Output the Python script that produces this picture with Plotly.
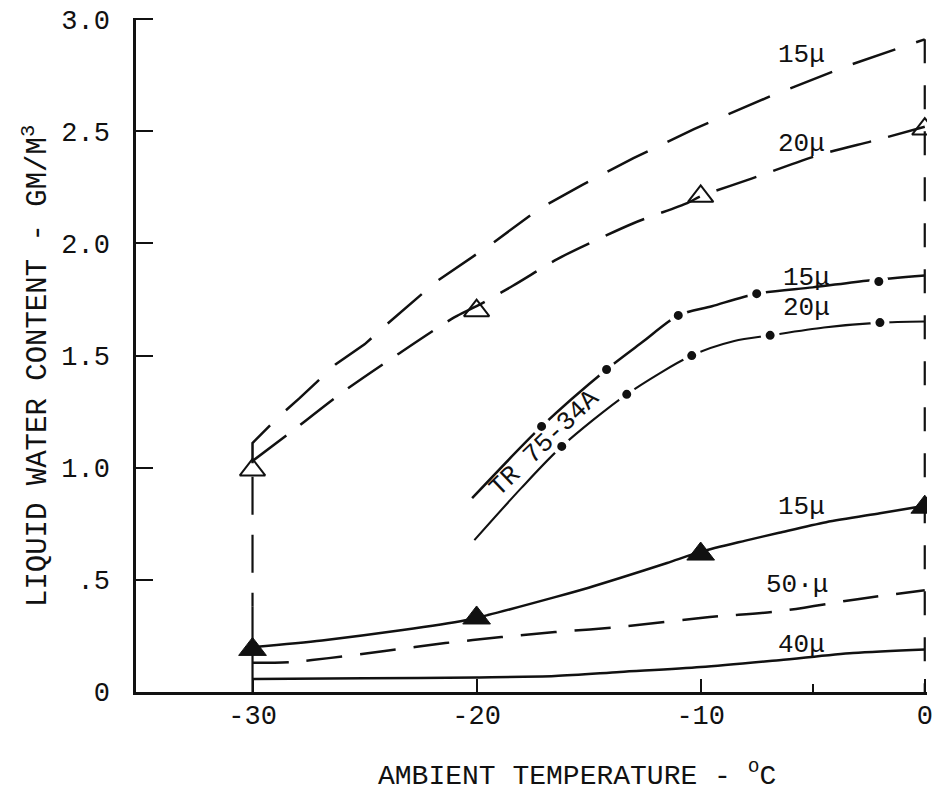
import plotly.graph_objects as go

# ---------------- data ----------------
# Upper family (open triangles), dashed curves
u15_x = [-30, -30, -28.8, -27.9, -26.3, -25, -24, -21.8, -19.3, -17.2, -15.3, -13, -10.3, -6.8, -3.5, 0]
u15_y = [1.02, 1.11, 1.23, 1.31, 1.46, 1.55, 1.64, 1.83, 2.00, 2.155, 2.26, 2.38, 2.51, 2.66, 2.79, 2.91]

u20_x = [-30, -28.4, -26, -23.6, -21, -20, -18.4, -16.4, -15.3, -13, -10.6, -10, -7.7, -4.7, -2.2, 0]
u20_y = [1.03, 1.15, 1.335, 1.50, 1.67, 1.72, 1.81, 1.93, 1.985, 2.09, 2.18, 2.21, 2.29, 2.395, 2.46, 2.52]

open_tri_x = [-30, -20, -10, 0]
open_tri_y = [0.99, 1.70, 2.21, 2.51]

# TR 75-34A curves (dash-dot)
tr15_x = [-20.2, -17.1, -14.2, -12.6, -11.0, -9.5, -7.5, -5, -2.5, 0]
tr15_y = [0.864, 1.184, 1.438, 1.56, 1.679, 1.72, 1.776, 1.804, 1.835, 1.857]
tr15_dot_x = [-17.1, -14.2, -11.0, -7.5, -2.05]
tr15_dot_y = [1.184, 1.438, 1.679, 1.776, 1.83]

tr20_x = [-20.1, -18, -16.2, -13.3, -10.4, -8.5, -6.9, -4.5, -2, 0]
tr20_y = [0.677, 0.91, 1.095, 1.327, 1.50, 1.565, 1.59, 1.625, 1.647, 1.652]
tr20_dot_x = [-16.2, -13.3, -10.4, -6.9, -2.0]
tr20_dot_y = [1.095, 1.327, 1.50, 1.59, 1.647]

# Lower family (filled triangles)
l15_x = [-30, -26.9, -23.3, -20.5, -19.5, -16.5, -15, -13.6, -11.5, -10, -8, -6.5, -4.4, -2, 0]
l15_y = [0.20, 0.23, 0.276, 0.32, 0.343, 0.423, 0.465, 0.508, 0.575, 0.625, 0.675, 0.71, 0.757, 0.797, 0.83]

filled_tri_x = [-30, -20, -10, 0]
filled_tri_y = [0.19, 0.33, 0.615, 0.824]

d50_x = [-30, -28.2, -26.6, -24.1, -21.4, -18.9, -16.5, -13.6, -9.6, -6.5, -3.0, 0]
d50_y = [0.13, 0.134, 0.151, 0.183, 0.218, 0.245, 0.267, 0.29, 0.334, 0.36, 0.414, 0.454]

s40_x = [-30, -25, -20, -16.5, -13.6, -10, -6.5, -3.2, 0]
s40_y = [0.058, 0.061, 0.065, 0.071, 0.089, 0.111, 0.142, 0.174, 0.19]

# vertical guide lines
v0_x = [0, 0]
v0_y = [2.91, 0]
v30_dash_x = [-30, -30]
v30_dash_y = [0.96, 0.38]
v30_solid_x = [-30, -30]
v30_solid_y = [0.38, 0]

# curve labels
label_text = ["15\u03bc", "20\u03bc", "15\u03bc", "20\u03bc", "15\u03bc", "50\u00b7\u03bc", "40\u03bc"]
label_x = [-5.5, -5.5, -5.3, -5.3, -5.5, -5.7, -5.5]
label_y = [2.84, 2.444, 1.848, 1.71, 0.824, 0.476, 0.209]

tr_label = "TR 75-34A"
tr_label_x = -16.95
tr_label_y = 1.11

x_tickvals = [-30, -20, -10, 0]
x_ticktext = ["-30", "-20", "-10", "0"]
y_tickvals = [0, 0.5, 1.0, 1.5, 2.0, 2.5, 3.0]
y_ticktext = ["0", ".5", "1.0", "1.5", "2.0", "2.5", "3.0"]

x_title = "AMBIENT TEMPERATURE - <sup>o</sup>C"
y_title = "LIQUID WATER CONTENT - GM/M<sup>3</sup>"

# ---------------- figure ----------------
FONT = "Liberation Mono"
BLK = "#111111"
LW = 2.5

fig = go.Figure()

def line(x, y, dash="solid", width=LW, smooth=True):
    fig.add_trace(go.Scatter(x=x, y=y, mode="lines",
                             line=dict(color=BLK, width=width, dash=dash,
                                       shape="spline" if smooth else "linear",
                                       smoothing=0.8),
                             hoverinfo="skip", showlegend=False))

line(v0_x, v0_y, dash="24px,22px", width=2.2, smooth=False)
line(v30_dash_x, v30_dash_y, dash="38px,20px", width=2.2, smooth=False)
line(v30_solid_x, v30_solid_y, width=2.2, smooth=False)

line(u15_x, u15_y, dash="45px,22px", smooth=False)
line(u20_x, u20_y, dash="42px,18px")
line(tr15_x, tr15_y)
line(tr20_x, tr20_y, width=2.1)
line(l15_x, l15_y)
line(d50_x, d50_y, dash="36px,18px")
line(s40_x, s40_y)

# dots on the TR curves (white halo makes the dash-dot gaps)
for dx, dy in ((tr15_dot_x, tr15_dot_y), (tr20_dot_x, tr20_dot_y)):
    fig.add_trace(go.Scatter(x=dx, y=dy, mode="markers",
                             marker=dict(symbol="circle", size=14, color=BLK,
                                         line=dict(color="white", width=5)),
                             hoverinfo="skip", showlegend=False))

fig.add_trace(go.Scatter(x=open_tri_x, y=open_tri_y, mode="markers",
                         marker=dict(symbol="triangle-up-open", size=22, color=BLK,
                                     line=dict(color=BLK, width=2)),
                         hoverinfo="skip", showlegend=False))
fig.add_trace(go.Scatter(x=filled_tri_x, y=filled_tri_y, mode="markers",
                         marker=dict(symbol="triangle-up", size=24, color=BLK,
                                     line=dict(color=BLK, width=1)),
                         hoverinfo="skip", showlegend=False))

for t, x, y in zip(label_text, label_x, label_y):
    fig.add_annotation(x=x, y=y, text=t, showarrow=False,
                       font=dict(family=FONT, size=26, color=BLK),
                       xanchor="center", yanchor="middle")

fig.add_annotation(x=tr_label_x, y=tr_label_y, text=tr_label, showarrow=False,
                   textangle=-44, font=dict(family=FONT, size=26, color=BLK),
                   xanchor="center", yanchor="middle")

fig.add_annotation(xref="paper", yref="paper", x=0.5575, y=-0.1217,
                   text=x_title, showarrow=False,
                   font=dict(family=FONT, size=28, color=BLK),
                   xanchor="center", yanchor="middle")
fig.add_annotation(xref="paper", yref="paper", x=-0.1264, y=0.4837,
                   text=y_title, showarrow=False, textangle=-90,
                   font=dict(family=FONT, size=29, color=BLK),
                   xanchor="center", yanchor="middle")

# the page body has an 8px margin, so the figure is sized/offset to compensate
fig.update_layout(
    width=938, height=791,
    margin=dict(l=128, r=19, t=10, b=107),
    paper_bgcolor="white", plot_bgcolor="white",
    font=dict(family=FONT, size=27, color=BLK),
    showlegend=False,
    xaxis=dict(range=[-35.2, 0.1], showgrid=False, zeroline=False,
               automargin=False, ticklabeloverflow="allow",
               showline=True, linecolor=BLK, linewidth=2.5,
               ticks="inside", ticklen=13, tickwidth=2.2, tickcolor=BLK,
               tickmode="array", tickvals=x_tickvals, ticktext=x_ticktext,
               ticklabelstandoff=-3,
               minor=dict(tickmode="array", tickvals=[-5], ticks="inside",
                          ticklen=8, tickwidth=1.5, tickcolor=BLK),
               tickfont=dict(family=FONT, size=27, color=BLK)),
    yaxis=dict(range=[0, 3.005], showgrid=False, zeroline=False,
               automargin=False, ticklabeloverflow="allow",
               showline=True, linecolor=BLK, linewidth=2.5,
               ticks="inside", ticklen=17, tickwidth=2.2, tickcolor=BLK,
               tickmode="array", tickvals=y_tickvals, ticktext=y_ticktext,
               ticklabelstandoff=18,
               tickfont=dict(family=FONT, size=27, color=BLK)),
)

fig.write_html("out.html")
